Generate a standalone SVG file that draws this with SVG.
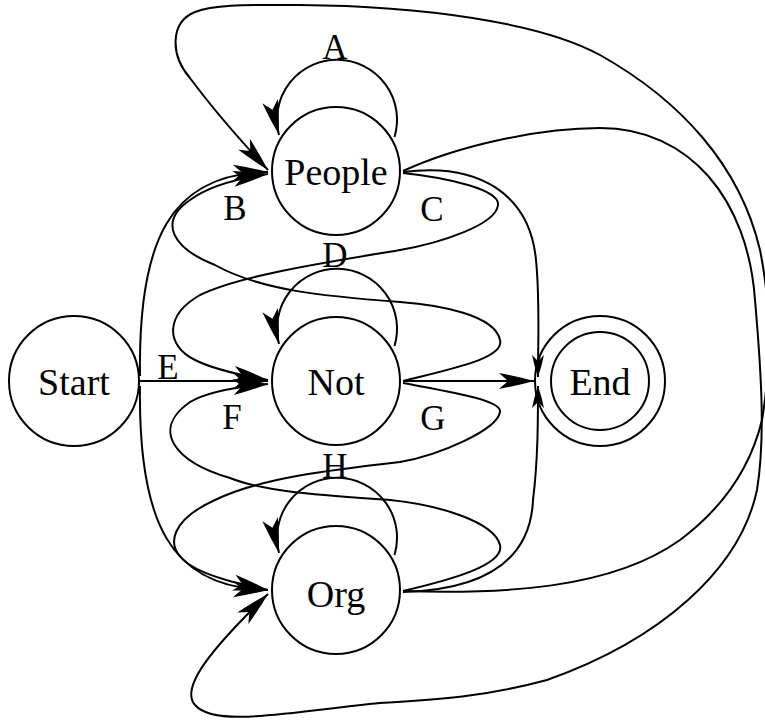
<svg xmlns="http://www.w3.org/2000/svg" width="765" height="722" viewBox="0 0 765 722">
  <style>
    .node { fill: #fff; stroke: #000; stroke-width: 2; }
    .edge { fill: none; stroke: #000; stroke-width: 2; marker-end: url(#arr); }
    .edge.short { marker-end: url(#arrShort); }
    .name { font-family: "Liberation Serif", "Times New Roman", serif; font-size: 38px; fill: #000; text-anchor: middle; }
    .lbl { font-family: "Liberation Serif", "Times New Roman", serif; font-size: 35px; fill: #000; text-anchor: middle; }
  </style>
  <defs>
    <!-- long swept-back arrowhead, tip at the path end -->
    <marker id="arr" markerUnits="userSpaceOnUse" markerWidth="40" markerHeight="18" viewBox="0 0 40 18" refX="36" refY="9" orient="auto" overflow="visible">
      <path d="M36,9 Q20,4.5 1,1 L10,9 L1,17 Q20,13.5 36,9 Z" fill="#000"/>
    </marker>
    <marker id="arrShort" markerUnits="userSpaceOnUse" markerWidth="24" markerHeight="14" viewBox="0 0 24 14" refX="22" refY="7" orient="auto" overflow="visible">
      <path d="M22,7 Q12,3.5 0,1 L6,7 L0,13 Q12,10.5 22,7 Z" fill="#000"/>
    </marker>
  </defs>

  <rect width="765" height="722" fill="#fff"/>

  <!-- states -->
  <g id="node-start">
    <circle class="node" cx="74" cy="381" r="65"/>
    <text class="name" x="74" y="395">Start</text>
  </g>
  <g id="node-people">
    <circle class="node" cx="336" cy="171" r="64"/>
    <text class="name" x="336" y="185">People</text>
  </g>
  <g id="node-not">
    <circle class="node" cx="336" cy="381" r="64"/>
    <text class="name" x="336" y="395">Not</text>
  </g>
  <g id="node-org">
    <circle class="node" cx="336" cy="590" r="64"/>
    <text class="name" x="336" y="607">Org</text>
  </g>
  <g id="node-end">
    <circle class="node" cx="600" cy="381" r="65"/>
    <circle class="node" cx="600" cy="381" r="49" fill="none"/>
    <text class="name" x="600" y="395">End</text>
  </g>

  <!-- transitions -->
  <g id="connectors">
    <!-- self loops -->
    <path class="edge" d="M394.5,137 A60,60 0 1 0 279,135"/>
    <path class="edge" d="M394.5,346 A60,60 0 1 0 279,344"/>
    <path class="edge" d="M394.5,555 A60,60 0 1 0 279,553"/>

    <!-- from Start -->
    <path class="edge" d="M140,376 C138,240 170,174 268,172"/>
    <path class="edge" d="M140,381 L268,381"/>
    <path class="edge" d="M140,386 C138,522 170,588 268,590"/>

    <!-- People to Not -->
    <path class="edge" d="M403,173 C450,178 500,190 498,205 C496,225 440,243 400,250 C330,262 240,275 200,295 C165,315 165,345 195,360 C215,370 245,376 268,380"/>
    <!-- Not to People -->
    <path class="edge" d="M403,381 C455,368 505,358 500,340 C495,315 440,305 400,302 C320,296 260,290 215,265 C172,248 158,222 190,200 C210,185 240,178 268,174"/>
    <!-- Not to Org -->
    <path class="edge" d="M403,383 C450,392 502,400 500,412 C497,430 440,455 400,462 C330,470 260,478 215,500 C175,518 160,545 190,565 C210,578 245,585 268,590"/>
    <!-- Org to Not -->
    <path class="edge" d="M403,591 C450,580 505,565 500,545 C494,522 440,505 390,500 C320,495 265,492 230,478 C175,462 150,430 190,402 C210,390 245,386 268,384"/>

    <!-- into End -->
    <path class="edge" d="M403,381 L534,381"/>
    <path class="edge short" d="M403,172 C480,162 530,195 536,260 C540,300 538,340 538,377"/>
    <path class="edge short" d="M403,592 C470,590 530,570 533,500 C538,460 538,420 538,386"/>

    <!-- People to Org, round the right and under the bottom -->
    <path class="edge" d="M403,171 C460,145 540,128 600,128 C690,128 748,200 755,300 C762,380 765,440 757,490 C740,570 660,640 547,680 C480,698 430,700 380,703 C290,712 215,728 195,705 C180,688 210,650 268,594"/>
    <!-- Org to People, round the right and over the top -->
    <path class="edge" d="M403,591 C500,594 610,590 680,540 C720,510 750,470 762,420 C772,360 770,300 760,250 C740,165 680,100 600,55 C540,22 420,6 300,5 C250,5 215,4 195,12 C170,22 170,55 190,78 C210,105 240,140 268,170"/>

    <!-- transition labels -->
    <text class="lbl" x="335" y="59">A</text>
    <text class="lbl" x="235" y="220">B</text>
    <text class="lbl" x="432" y="221">C</text>
    <text class="lbl" x="335" y="267">D</text>
    <text class="lbl" x="168" y="379">E</text>
    <text class="lbl" x="232" y="429">F</text>
    <text class="lbl" x="433" y="430">G</text>
    <text class="lbl" x="335" y="478">H</text>
  </g>
</svg>
